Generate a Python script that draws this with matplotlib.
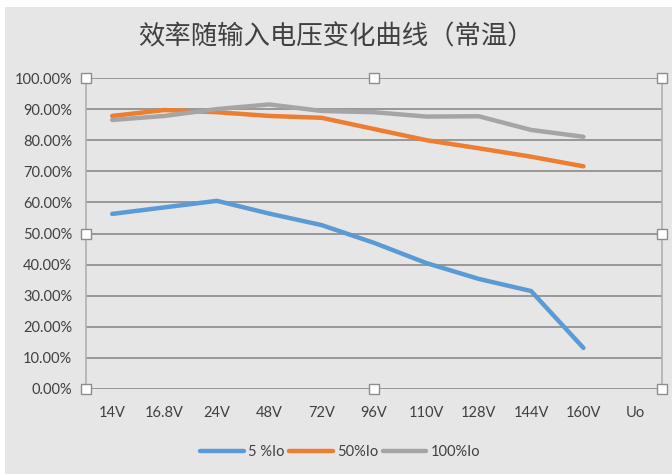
import matplotlib
matplotlib.use("Agg")
import matplotlib.pyplot as plt
from matplotlib.patches import Rectangle
from matplotlib.ticker import FuncFormatter

categories = ["14V", "16.8V", "24V", "48V", "72V", "96V", "110V", "128V", "144V", "160V", "Uo"]
eff_5 = [56.3, 58.4, 60.5, 56.4, 52.7, 47.0, 40.5, 35.4, 31.5, 13.2]
eff_50 = [87.8, 89.7, 89.0, 87.8, 87.2, 83.6, 80.0, 77.4, 74.7, 71.6]
eff_100 = [86.5, 87.8, 90.0, 91.5, 89.4, 89.0, 87.6, 87.7, 83.3, 81.1]
series_labels = ["5 %Io", "50%Io", "100%Io"]
y_ticks = [0, 10, 20, 30, 40, 50, 60, 70, 80, 90, 100]

W, H = 672, 474
fig = plt.figure(figsize=(W / 100, H / 100), dpi=100, facecolor="white")
bg = "#e6e6e6"
fig.patches.append(Rectangle((5 / W, 0), 1 - 5 / W, 1 - 7 / H, transform=fig.transFigure,
                             facecolor=bg, edgecolor="none", zorder=-10))

ax = fig.add_axes([86 / W, (H - 389) / H, (662 - 86) / W, (389 - 78) / H])
ax.set_facecolor(bg)
ax.patch.set_alpha(0)

x = list(range(len(categories)))
colors = ["#5b9bd5", "#ed7d31", "#a5a5a5"]
for vals, c, lab in zip([eff_5, eff_50, eff_100], colors, series_labels):
    ax.plot(x[:len(vals)], vals, color=c, lw=3.2, label=lab, solid_capstyle="round",
            solid_joinstyle="round", zorder=3)

ax.set_xlim(-0.5, len(categories) - 0.5)
ax.set_ylim(0, 100)
ax.set_yticks(y_ticks)
ax.yaxis.set_major_formatter(FuncFormatter(lambda v, p: f"{v:.2f}%"))
ax.set_xticks(x)
ax.set_xticklabels(categories)
ax.grid(axis="y", color="#8a8a8a", lw=1.2, zorder=1)
ax.tick_params(axis="both", length=0, labelsize=10, labelcolor="#404040")
ax.tick_params(axis="y", pad=10)
ax.tick_params(axis="x", pad=12)
for lab in ax.get_xticklabels() + ax.get_yticklabels():
    lab.set_family("Lato")
    lab.set_fontsize(10.5)

for s in ["top", "bottom"]:
    ax.spines[s].set_visible(False)
for s in ["left", "right"]:
    ax.spines[s].set_color("#b0b0b0")
    ax.spines[s].set_linewidth(1.2)

# selection handles
hx = [0, 0.5, 1, 0, 1, 0, 0.5, 1]
hy = [1, 1, 1, 0.5, 0.5, 0, 0, 0]
ax.plot(hx, hy, ls="none", marker="s", markersize=6.5, markerfacecolor="white",
        markeredgecolor="#8c8c8c", markeredgewidth=1, transform=ax.transAxes,
        clip_on=False, zorder=5)

fig.text(336 / W, 1 - 37 / H, "效率随输入电压变化曲线（常温）", ha="center", va="center",
         fontsize=19, color="#404040", family=["Noto Sans CJK SC", "DejaVu Sans"])

leg = fig.legend(loc="center", bbox_to_anchor=(340 / W, 1 - 452 / H), ncol=3, frameon=False,
                 handlelength=3.0, handletextpad=0.3, columnspacing=0.3,
                 prop={"family": "Lato", "size": 10.5})
for t in leg.get_texts():
    t.set_color("#404040")

fig.savefig("out.png", dpi=100, facecolor="white")
